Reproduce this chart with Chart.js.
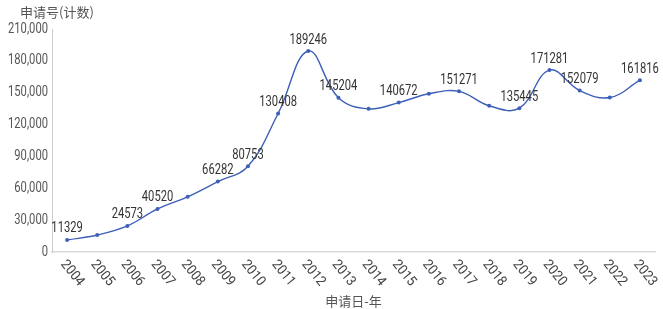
<!DOCTYPE html>
<html>
<head>
<meta charset="utf-8">
<script src="https://cdn.jsdelivr.net/npm/chart.js@4"></script>
<style>
  html, body { margin: 0; padding: 0; background: #fff; }
  #wrap { width: 663px; height: 309px; }
</style>
</head>
<body>
<div id="wrap"><canvas id="chart"></canvas></div>
<script>
var years = ['2004','2005','2006','2007','2008','2009','2010','2011','2012','2013',
             '2014','2015','2016','2017','2018','2019','2020','2021','2022','2023'];
var counts = [11329, 16000, 24573, 40520, 52000, 66282, 80753, 130408, 189246, 145204,
              134800, 140672, 149000, 151271, 137700, 135445, 171281, 152079, 145500, 161816];
// years that carry a value label in the picture
var labeledYears = ['2004','2006','2007','2009','2010','2011','2012','2013','2015',
                    '2017','2019','2020','2021','2023'];
var yTicks = [0, 30000, 60000, 90000, 120000, 150000, 180000, 210000];

var lineColor = '#3d5fb9';
var numFont = '14px Roboto, sans-serif';
var squeeze = 0.8; // the original uses a narrow face

// draw text squeezed horizontally
function narrowText(ctx, txt, x, y, align) {
  ctx.save();
  ctx.translate(x, y);
  ctx.scale(squeeze, 1);
  ctx.textAlign = align;
  ctx.fillText(txt, 0, 0);
  ctx.restore();
}

var extras = {
  id: 'extras',
  afterDatasetsDraw: function(chart) {
    var ctx = chart.ctx;
    var meta = chart.getDatasetMeta(0);
    ctx.save();
    ctx.fillStyle = '#333';
    ctx.font = numFont;
    ctx.textBaseline = 'bottom';
    meta.data.forEach(function(pt, i) {
      if (labeledYears.indexOf(years[i]) < 0) return;
      narrowText(ctx, String(counts[i]), pt.x, pt.y - 4, 'center');
    });
    ctx.restore();
  },
  afterDraw: function(chart) {
    var ctx = chart.ctx;
    var x = chart.scales.x;
    var y = chart.scales.y;
    ctx.save();
    ctx.fillStyle = '#555';
    ctx.font = '13px "Noto Sans CJK SC", sans-serif';
    ctx.textAlign = 'left';
    ctx.textBaseline = 'middle';
    ctx.fillText('申请号(计数)', 20, 12);

    ctx.font = numFont;
    yTicks.forEach(function(v) {
      narrowText(ctx, v.toLocaleString('en-US'), y.right - 4, y.getPixelForValue(v), 'right');
    });

    ctx.fillStyle = '#444';
    years.forEach(function(lbl, i) {
      var px = x.getPixelForValue(i);
      ctx.save();
      ctx.translate(px - 4, x.top + 10);
      ctx.rotate(51 * Math.PI / 180);
      ctx.scale(0.92, 1);
      ctx.textAlign = 'left';
      ctx.fillText(lbl, 0, 0);
      ctx.restore();
    });
    ctx.restore();
  }
};

new Chart(document.getElementById('chart'), {
  type: 'line',
  data: {
    labels: years,
    datasets: [{
      data: counts,
      borderColor: lineColor,
      backgroundColor: lineColor,
      borderWidth: 1.4,
      pointRadius: 2,
      pointBorderWidth: 0,
      tension: 0.4,
      fill: false
    }]
  },
  options: {
    responsive: true,
    maintainAspectRatio: false,
    animation: false,
    layout: { padding: { top: 29, right: 8, left: 0, bottom: 0 } },
    plugins: {
      legend: { display: false },
      tooltip: { enabled: false }
    },
    scales: {
      x: {
        offset: true,
        grid: { display: false },
        border: { display: true, color: '#d9d9d9', width: 1.5 },
        ticks: { display: false },
        title: {
          display: true,
          text: '申请日-年',
          color: '#555',
          font: { size: 13, family: '"Noto Sans CJK SC", sans-serif' },
          padding: { top: 0, bottom: 0 }
        },
        afterFit: function(s) { s.height = 57; }
      },
      y: {
        min: 0,
        max: 210000,
        grid: { display: false },
        border: { display: true, color: '#cccccc' },
        ticks: { display: false },
        afterFit: function(s) { s.width = 52; }
      }
    }
  },
  plugins: [extras]
});
</script>
</body>
</html>
